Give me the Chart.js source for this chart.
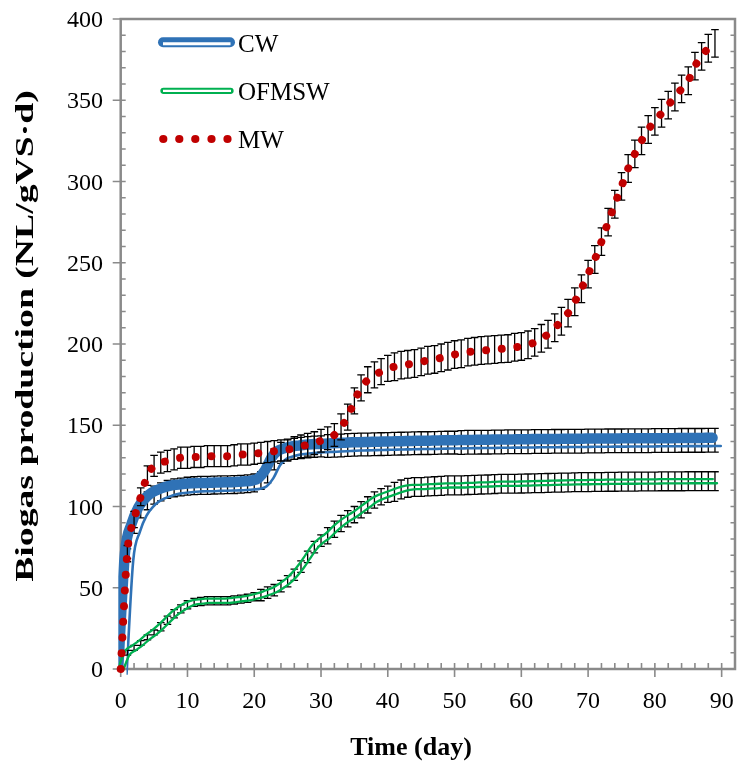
<!DOCTYPE html>
<html><head><meta charset="utf-8">
<style>html,body{margin:0;padding:0;background:#fff}#wrap{width:738px;height:766px}</style>
<script src="https://cdn.jsdelivr.net/npm/chart.js@4/dist/chart.umd.min.js"></script>
</head><body><div id="wrap"><canvas id="c" width="738" height="766"></canvas></div>
<script>
// ---- data ----
const days = [
  0,1,2,3,4,5,6,7,8,9,10,11,12,13,14,15,16,17,18,19,20,21,22,23,24,25,26,27,28,29,
  30,31,32,33,34,35,36,37,38,39,40,41,42,43,44,45,46,47,48,49,50,51,52,53,54,55,56,57,58,59,
  60,61,62,63,64,65,66,67,68,69,70,71,72,73,74,75,76,77,78,79,80,81,82,83,84,85,86,87,88,89
];
const cw = [
  0,70,88,98,103.5,107,109,110.5,111.5,112,
  112.5,112.8,113,113,113.2,113.3,113.4,113.5,113.7,114,
  114.5,116,121,129,133,134.5,135.5,136,136.5,136.8,
  137,137.2,137.4,137.6,137.8,138,138.1,138.2,138.3,138.4,
  138.5,138.6,138.7,138.8,138.9,139,139,139.1,139.2,139.3,
  139.3,139.4,139.5,139.5,139.6,139.6,139.7,139.7,139.8,139.8,
  139.9,139.9,140,140,140,140.1,140.1,140.2,140.2,140.2,
  140.3,140.3,140.3,140.4,140.4,140.4,140.5,140.5,140.5,140.5,
  140.6,140.6,140.6,140.6,140.7,140.7,140.7,140.7,140.8,140.8
];
const cwErr = [
  0,4,4.5,5,5.5,5.5,5.5,5.5,5.5,5.5,
  5.5,5.5,5.5,5.5,5.5,5.5,5.5,5.5,5.5,5.5,
  5.5,5.5,6.5,6.5,6.5,6.5,6.5,6.5,6.5,6.5,
  6.5,7,7,7,7,7,7,7,7,7,
  7,7,7,7,7,7,7,7,7,7,
  7,7.3,7.3,7.3,7.3,7.3,7.3,7.3,7.3,7.3,
  7.3,7.3,7.3,7.3,7.3,7.3,7.3,7.3,7.3,7.3,
  7.3,7.3,7.3,7.3,7.3,7.3,7.3,7.3,7.3,7.3,
  7.3,7.3,7.3,7.3,7.3,7.3,7.3,7.3,7.3,7.3
];
const ofmsw = [
  0,10,13,16,19.5,22.5,26,30,34,37,
  39.5,41,41.5,42,42,42,42,42.5,43,43.5,
  44.5,45.5,47,48.5,51,54,58,63,69,75,
  79,82,86,89.5,92.5,95,98,101,104,106,
  107.5,109,110.5,111.5,112,112,112.3,112.5,112.7,113,
  113,113,113.2,113.3,113.5,113.6,113.8,114,114,114,
  114.1,114.2,114.3,114.4,114.5,114.6,114.7,114.8,114.9,115,
  115,115.1,115.1,115.2,115.2,115.3,115.3,115.3,115.4,115.4,
  115.4,115.5,115.5,115.5,115.5,115.6,115.6,115.6,115.6,115.6
];
const ofmswErr = [
  0,1.5,1.5,1.5,1.5,1.5,2.5,2.5,2.5,2.5,
  2.5,2.5,2.5,2.5,2.5,2.5,2.5,2.5,2.5,2.5,
  2.5,3.5,3.5,3.5,3.5,3.5,3.5,3.5,3.5,3.5,
  3.5,5,5,5,5,5,5,5,5,5,
  5,5.8,5.8,5.8,5.8,5.8,5.8,5.8,5.8,5.8,
  5.8,5.8,5.8,5.8,5.8,5.8,5.8,5.8,5.8,5.8,
  5.8,5.8,5.8,5.8,5.8,5.8,5.8,5.8,5.8,5.8,
  5.8,5.8,5.8,5.8,5.8,5.8,5.8,5.8,5.8,5.8,
  5.8,5.8,5.8,5.8,5.8,5.8,5.8,5.8,5.8,5.8
];
const mw = [
  0,72,92,106,119,125,127,128,129,130,
  130,130.5,130.5,131,131,131,131,131.5,132,132,
  132.5,133,133.5,134,134.5,135,136,137,138,139,
  140.5,142,144,149,155,165,173,178,181,183,
  185,186,187,187.5,188,189,190,190.5,191.5,192.5,
  193.5,194,195,195.5,196,196.3,196.6,197,197.2,198,
  198.5,199.5,201,203.5,206,210,214,219,226,234,
  243,252,263,275,286,297,308,317,325,332,
  337,342,347,352,357,362,371,377,382,385
];
const mwErr = [
  0,4,5,5.5,6,6.5,6.5,6.5,6.5,6.5,
  6.5,6.5,6.5,6.5,6.5,6.5,6.5,6.5,6.5,6.5,
  6.5,6.5,6.5,6.5,6.5,6.5,7,7,7,7,
  7,7,7,8,8,8,8,8,8,8,
  8,8.5,8.5,8.5,8.5,8.5,8.5,8.5,8.5,8.5,
  8.5,8.5,8.5,8.5,8.5,8.5,8.5,8.5,8.5,8.5,
  8.5,8.5,8.5,8.5,8.5,8.5,8.5,8.5,8.5,8.5,
  8.5,8.5,8.5,8.5,8.5,8.5,8.5,8.5,8.5,8.5,
  8.5,8.5,8.5,8.5,8.5,8.5,8.5,8.5,8.5,8.5
];
const seriesNames = ['CW', 'OFMSW', 'MW'];
const xTickLabels = [0,10,20,30,40,50,60,70,80,90];
const yTickLabels = [0,50,100,150,200,250,300,350,400];
const xMinorStep = 2;
const yMinorStep = 10;
const xTitle = 'Time (day)';
const yTitle = 'Biogas production (NL/gVS\u00b7d)';

// ---- styles ----
const BLUE = '#2f72b6', GREEN = '#00b050', RED = '#c00000', AXIS = '#8a8a8a';
const SERIF = '"Liberation Serif", "Times New Roman", serif';

const pts = (ys) => ys.map((v, i) => ({x: days[i], y: v}));

function drawErrorBars(chart, values, errs) {
  const ctx = chart.ctx, xs = chart.scales.x, ys = chart.scales.y;
  ctx.save();
  ctx.strokeStyle = '#000';
  ctx.lineWidth = 1.3;
  ctx.beginPath();
  for (let i = 0; i < values.length; i++) {
    if (!errs[i]) continue;
    const x = xs.getPixelForValue(days[i]);
    const y1 = ys.getPixelForValue(values[i] + errs[i]);
    const y2 = ys.getPixelForValue(values[i] - errs[i]);
    ctx.moveTo(x, y1); ctx.lineTo(x, y2);
    ctx.moveTo(x - 3.8, y1); ctx.lineTo(x + 3.8, y1);
    ctx.moveTo(x - 3.8, y2); ctx.lineTo(x + 3.8, y2);
  }
  ctx.stroke();
  ctx.restore();
}

const seriesPlugin = {
  id: 'seriesPlugin',
  beforeDatasetDraw(chart, args) {
    const ds = chart.data.datasets[args.index];
    if (ds.errSource) drawErrorBars(chart, ds.errSource[0], ds.errSource[1]);
    chart.ctx.save();
    if (ds.shift) chart.ctx.translate(ds.shift[0], ds.shift[1]);
  },
  afterDatasetDraw(chart) { chart.ctx.restore(); }
};

const framePlugin = {
  id: 'framePlugin',
  beforeDatasetsDraw(chart) {
    const ctx = chart.ctx, ca = chart.chartArea, xs = chart.scales.x, ys = chart.scales.y;
    ctx.save();
    ctx.strokeStyle = AXIS;
    ctx.lineWidth = 1.6;
    ctx.beginPath();
    for (let v = yMinorStep; v < ys.max; v += yMinorStep) {
      const y = ys.getPixelForValue(v);
      ctx.moveTo(ca.left, y); ctx.lineTo(ca.left + 5, y);
      ctx.moveTo(ca.right, y); ctx.lineTo(ca.right - 4.5, y);
    }
    for (const v of yTickLabels) {
      const y = ys.getPixelForValue(v);
      ctx.moveTo(ca.left - 8, y); ctx.lineTo(ca.left + 5, y);
    }
    for (let d = xMinorStep; d < xs.max; d += xMinorStep) {
      const x = xs.getPixelForValue(d);
      ctx.moveTo(x, ca.bottom); ctx.lineTo(x, ca.bottom - 6);
    }
    for (const d of xTickLabels) {
      const x = xs.getPixelForValue(d);
      ctx.moveTo(x, ca.bottom - 6); ctx.lineTo(x, ca.bottom + 8);
    }
    ctx.stroke();
    ctx.lineWidth = 2.5;
    ctx.strokeRect(ca.left, ca.top, ca.right - ca.left, ca.bottom - ca.top);

    // tick labels
    ctx.fillStyle = '#000';
    ctx.font = '24px ' + SERIF;
    ctx.textAlign = 'right';
    ctx.textBaseline = 'alphabetic';
    for (const v of yTickLabels) {
      ctx.fillText(String(v), 103, ys.getPixelForValue(v) + 8.2);
    }
    ctx.textAlign = 'center';
    for (const d of xTickLabels) {
      ctx.fillText(String(d), xs.getPixelForValue(d), 708);
    }
    // axis titles
    ctx.font = 'bold 26px ' + SERIF;
    ctx.fillText(xTitle, 411, 755);
    ctx.save();
    ctx.translate(33, 336);
    ctx.rotate(-Math.PI / 2);
    ctx.scale(1.45, 1);
    ctx.textAlign = 'center';
    ctx.fillText(yTitle, 0, 0);
    ctx.restore();
    ctx.restore();
  },
  afterDraw(chart) {
    const ctx = chart.ctx;
    ctx.save();
    // CW sample
    ctx.lineCap = 'round';
    ctx.strokeStyle = BLUE; ctx.lineWidth = 10;
    ctx.beginPath(); ctx.moveTo(163, 42.3); ctx.lineTo(230, 42.3); ctx.stroke();
    ctx.lineCap = 'butt';
    ctx.strokeStyle = '#fff'; ctx.lineWidth = 3;
    ctx.beginPath(); ctx.moveTo(163, 43.8); ctx.lineTo(230.5, 43.8); ctx.stroke();
    // OFMSW sample
    ctx.lineCap = 'round';
    ctx.strokeStyle = GREEN; ctx.lineWidth = 6.3;
    ctx.beginPath(); ctx.moveTo(163.5, 90.8); ctx.lineTo(230.5, 90.8); ctx.stroke();
    ctx.lineCap = 'butt';
    ctx.strokeStyle = '#fff'; ctx.lineWidth = 2.3;
    ctx.beginPath(); ctx.moveTo(163, 90.8); ctx.lineTo(231, 90.8); ctx.stroke();
    // MW sample
    ctx.fillStyle = RED;
    for (const x of [163.3, 179.3, 195.3, 211.5, 227.5]) {
      ctx.beginPath(); ctx.arc(x, 139, 4.1, 0, Math.PI * 2); ctx.fill();
    }
    ctx.fillStyle = '#000';
    ctx.font = '25px ' + SERIF;
    ctx.textAlign = 'left';
    ctx.textBaseline = 'alphabetic';
    ctx.fillText(seriesNames[0], 238, 52);
    ctx.fillText(seriesNames[1], 238, 100);
    ctx.fillText(seriesNames[2], 238, 148);
    ctx.restore();
  }
};

const common = {pointRadius: 0, pointHoverRadius: 0, fill: false, cubicInterpolationMode: 'monotone'};

new Chart(document.getElementById('c'), {
  type: 'line',
  data: {
    datasets: [
      Object.assign({}, common, {
        label: seriesNames[2], data: pts(mw), borderColor: RED, borderWidth: 8,
        borderDash: [0.01, 15.7], borderCapStyle: 'round', clip: false, order: 1,
        errSource: [mw, mwErr]
      }),
      Object.assign({}, common, {
        label: seriesNames[1] + ' b', data: pts(ofmsw), borderColor: GREEN, borderWidth: 2.3,
        borderCapStyle: 'round', clip: 0, order: 2, shift: [2.1, 2.1]
      }),
      Object.assign({}, common, {
        label: seriesNames[1] + ' a', data: pts(ofmsw), borderColor: GREEN, borderWidth: 2.3,
        borderCapStyle: 'round', clip: 0, order: 3, shift: [-2.1, -2.1],
        errSource: [ofmsw, ofmswErr]
      }),
      Object.assign({}, common, {
        label: seriesNames[0] + ' thin', data: pts(cw), borderColor: BLUE, borderWidth: 2.6,
        borderCapStyle: 'round', clip: 0, order: 4, shift: [5.8, 5.8]
      }),
      Object.assign({}, common, {
        label: seriesNames[0], data: pts(cw), borderColor: BLUE, borderWidth: 10.5,
        borderCapStyle: 'round', clip: 0, order: 5, shift: [-2.4, -2.4],
        errSource: [cw, cwErr]
      })
    ]
  },
  options: {
    responsive: false,
    animation: false,
    devicePixelRatio: 1,
    layout: {padding: {top: 19, right: 3, left: 0, bottom: 0}},
    plugins: {legend: {display: false}, tooltip: {enabled: false}},
    scales: {
      x: {
        type: 'linear', min: 0, max: 92,
        ticks: {display: false}, grid: {display: false}, border: {display: false},
        afterFit: (s) => { s.height = 766 - 669; }
      },
      y: {
        type: 'linear', min: 0, max: 400,
        ticks: {display: false}, grid: {display: false}, border: {display: false},
        afterFit: (s) => { s.width = 120.7; }
      }
    }
  },
  plugins: [seriesPlugin, framePlugin]
});
</script></body></html>
